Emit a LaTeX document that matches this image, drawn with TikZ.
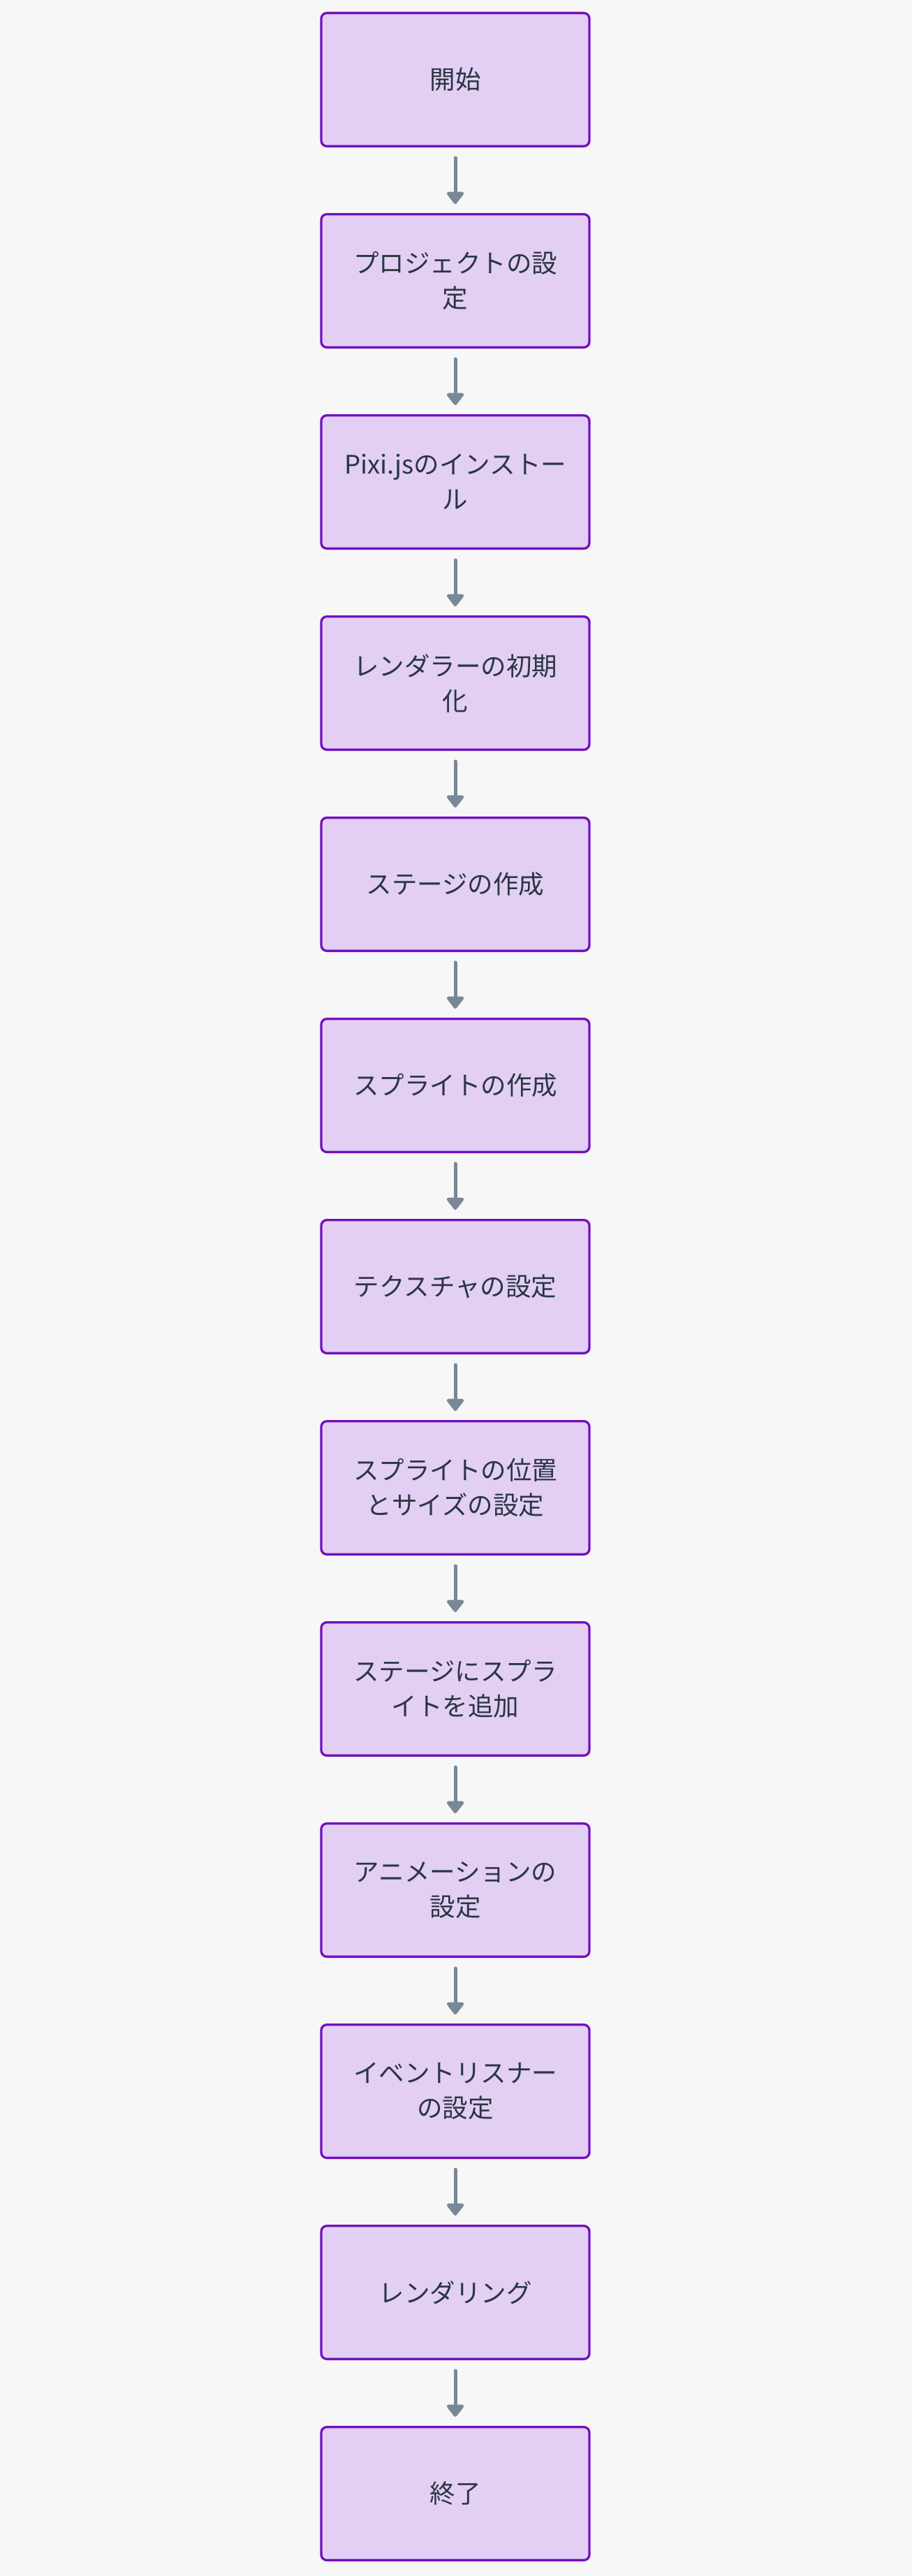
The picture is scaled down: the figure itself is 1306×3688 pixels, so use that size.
\documentclass[tikz,border=0pt]{standalone}
\usepackage{fontspec}
\setmainfont{Noto Sans CJK JP}
\usetikzlibrary{positioning,arrows.meta}
\definecolor{stepfill}{HTML}{E3CFF3}
\definecolor{stepline}{HTML}{7210BE}
\definecolor{flowline}{HTML}{788896}
\definecolor{steptext}{HTML}{2A3644}
\definecolor{pagebg}{HTML}{F7F7F7}
\tikzset{
  stepbox/.style={draw=stepline, fill=stepfill, line width=3.3pt, rounded corners=8pt,
    minimum width=384pt, minimum height=190.7pt, text width=340pt, align=center,
    text=steptext, font=\fontsize{36.5}{50}\selectfont},
  flow/.style={draw=flowline, line width=5pt, line cap=round,
    -{Triangle[width=28pt,length=19pt,round]}, shorten <=15pt, shorten >=13pt}
}
\begin{document}
\begin{tikzpicture}
                  \useasboundingbox (0,0) rectangle (1306pt,-3688pt);
                  \fill[pagebg] (0,0) rectangle (1306pt,-3688pt);
                  \node[stepbox, anchor=north] (start) at (652pt,-17pt) {開始};
                  \node[stepbox, below=94pt of start] (project) {プロジェクトの設\\定};
                  \node[stepbox, below=94pt of project] (pixi) {Pixi.jsのインストー\\ル};
                  \node[stepbox, below=94pt of pixi] (renderer) {レンダラーの初期\\化};
                  \node[stepbox, below=94pt of renderer] (stage) {ステージの作成};
                  \node[stepbox, below=94pt of stage] (sprite) {スプライトの作成};
                  \node[stepbox, below=94pt of sprite] (texture) {テクスチャの設定};
                  \node[stepbox, below=94pt of texture] (spritepos) {スプライトの位置\\とサイズの設定};
                  \node[stepbox, below=94pt of spritepos] (addsprite) {ステージにスプラ\\イトを追加};
                  \node[stepbox, below=94pt of addsprite] (animation) {アニメーションの\\設定};
                  \node[stepbox, below=94pt of animation] (events) {イベントリスナー\\の設定};
                  \node[stepbox, below=94pt of events] (rendering) {レンダリング};
                  \node[stepbox, below=94pt of rendering] (finish) {終了};
                  \draw[flow] (start) -- (project);
                  \draw[flow] (project) -- (pixi);
                  \draw[flow] (pixi) -- (renderer);
                  \draw[flow] (renderer) -- (stage);
                  \draw[flow] (stage) -- (sprite);
                  \draw[flow] (sprite) -- (texture);
                  \draw[flow] (texture) -- (spritepos);
                  \draw[flow] (spritepos) -- (addsprite);
                  \draw[flow] (addsprite) -- (animation);
                  \draw[flow] (animation) -- (events);
                  \draw[flow] (events) -- (rendering);
                  \draw[flow] (rendering) -- (finish);
              \end{tikzpicture}
\end{document}
